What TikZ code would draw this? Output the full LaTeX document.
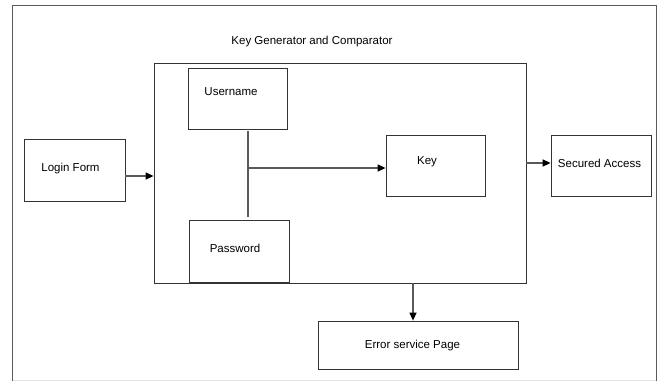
\documentclass[tikz,border=0pt]{standalone}
\usepackage{fontspec}
\setmainfont{Liberation Sans}
\usetikzlibrary{arrows.meta}
\begin{document}
\begin{tikzpicture}[x=1pt,y=-1pt,
  box/.style={draw=black!80,line width=0.8pt,inner sep=0pt},
  lbl/.style={font=\fontsize{11.5}{13}\selectfont},
  conn/.style={draw=black!65,line width=1.3pt},
  arr/.style={conn,-{Triangle[length=8pt,width=7pt,color=black]}}]

\useasboundingbox (0,0) rectangle (660,381);
\draw[black!65,line width=0.8pt] (12.5,381)--(12.5,5.5)--(656,5.5)--(656,381);
\draw[black!10] (12.5,380)--(656,380);

\node[box,minimum width=372pt,minimum height=220pt] (gen) at (340,173) {};
\node[lbl] (title) at (312,42) {Key Generator and Comparator};

\node[box,minimum width=99pt,minimum height=61pt,
  label={[lbl,xshift=-6.5pt,yshift=6.5pt]center:Username}] (user) at (237.5,98.5) {};
\node[box,minimum width=100pt,minimum height=62pt,
  label={[lbl,xshift=-4pt,yshift=3pt]center:Password}] (pass) at (239,251) {};
\node[box,minimum width=99pt,minimum height=61pt,
  label={[lbl,xshift=-8.5pt,yshift=3.5pt]center:Key}] (key) at (435.5,165.5) {};
\node[box,minimum width=101pt,minimum height=62pt,
  label={[lbl,xshift=-4pt,yshift=1pt]center:Login Form}] (login) at (74.5,170) {};
\node[box,minimum width=100pt,minimum height=61pt,
  label={[lbl,xshift=-1.5pt,yshift=2.5pt]center:Secured Access}] (sec) at (601,165.5) {};
\node[box,minimum width=200pt,minimum height=48pt,
  label={[lbl,xshift=-5.5pt,yshift=-1pt]center:Error service Page}] (err) at (418,345) {};

\coordinate (fork) at (248,168);

\draw[arr] ([yshift=-6pt]login.east) -- ([yshift=-6pt]login.east -| gen.west);
\draw[conn,shorten <=2pt,shorten >=3pt] ([xshift=10.5pt]user.south) -- ([xshift=10.5pt]user.south |- pass.north);
\draw[arr] (fork) -- (fork -| key.west);
\draw[arr] ([yshift=2.5pt]sec.west -| gen.east) -- ([yshift=2.5pt]sec.west);
\draw[arr] ([xshift=-5pt]err.north |- gen.south) -- ([xshift=-5pt]err.north);

\end{tikzpicture}
\end{document}
